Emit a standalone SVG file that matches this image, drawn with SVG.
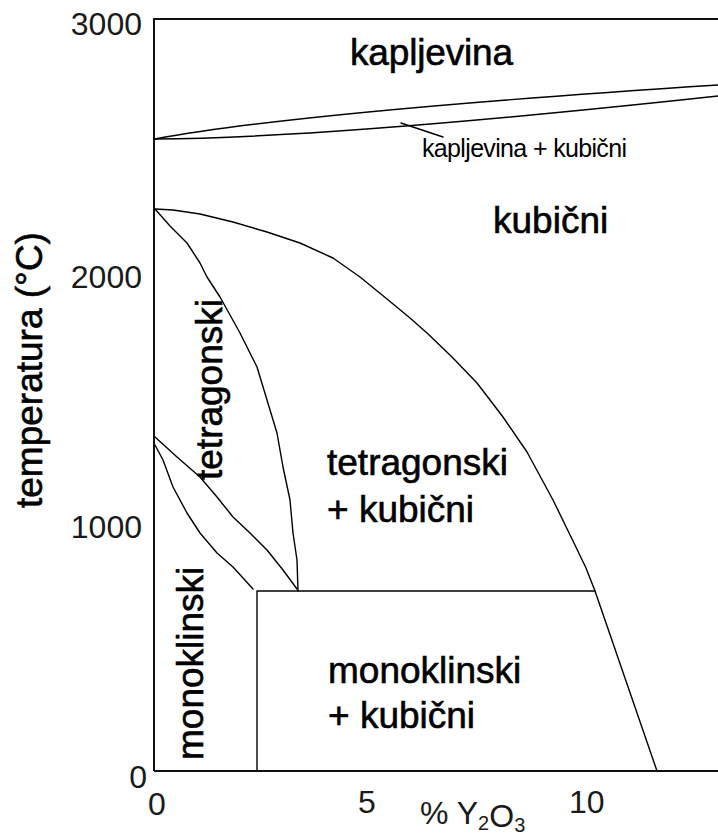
<svg xmlns="http://www.w3.org/2000/svg" width="718" height="837" viewBox="0 0 718 837">
<style>
text{font-family:"Liberation Sans",Arial,sans-serif;fill:#000}
.tick{font-size:32px;fill:#1a1a1a}
.lbl{font-size:37px;stroke:#000;stroke-width:0.6}
.small{font-size:25px}
.axis{fill:none;stroke:#111;stroke-width:2}
.ph{fill:none;stroke:#000;stroke-width:1.4;stroke-linejoin:round;stroke-linecap:round}
</style>
<rect width="718" height="837" fill="#fff"/>
<g id="axes">
<path class="axis" d="M154,771 V19 H718 M154,771 H718"/>
</g>
<g id="ticks">
<text class="tick" x="142" y="35" text-anchor="end">3000</text>
<text class="tick" x="142" y="288" text-anchor="end">2000</text>
<text class="tick" x="142" y="538" text-anchor="end">1000</text>
<text class="tick" x="147" y="788" text-anchor="end">0</text>
<text class="tick" x="148" y="815">0</text>
<text class="tick" x="358" y="813">5</text>
<text class="tick" x="569" y="813">10</text>
<text class="tick" x="420" y="824" font-size="28">% Y<tspan font-size="20" dy="6">2</tspan><tspan dy="-3">O</tspan><tspan font-size="20" dy="5">3</tspan></text>
<text class="lbl" transform="translate(42,508) rotate(-90)" stroke-width="0">temperatura (°C)</text>
</g>
<g id="boundaries">
<path class="ph" d="M155,139 Q300,112 718,85"/>
<path class="ph" d="M155,139 Q330,138 718,96"/>
<polyline class="ph" points="155,209 173,210 200,214 233,222 267,232 300,243 333,258 360,277 387,299 410,318 427,333 452,357 477,383 503,417 527,452 553,500 573,541 586,568 595,591 657,771"/>
<polyline class="ph" points="155,209 170,226 187,243 200,263 207,277 220,297 240,333 257,367 267,400 277,433 283,467 290,500 293,533 297,560 298,591"/>
<polyline class="ph" points="155,437 177,457 200,477 217,497 233,517 250,533 267,550 283,570 297,589"/>
<polyline class="ph" points="155,445 163,460 173,487 187,513 200,533 217,553 233,567 253,589"/>
<path class="ph" d="M257,591 H595 M257,591 V771"/>
</g>
<g id="leader">
<path class="ph" stroke-width="1.2" d="M401,123 L443,137"/>
</g>
<g id="labels">
<text class="lbl" x="350" y="65" textLength="163">kapljevina</text>
<text class="small" x="422" y="157" textLength="205">kapljevina + kubični</text>
<text class="lbl" x="493" y="233">kubični</text>
<text class="lbl" x="327" y="475">tetragonski</text>
<text class="lbl" x="327" y="522">+ kubični</text>
<text class="lbl" x="328" y="683">monoklinski</text>
<text class="lbl" x="328" y="728">+ kubični</text>
<text class="lbl" transform="translate(222,480) rotate(-90)">tetragonski</text>
<text class="lbl" transform="translate(203,760) rotate(-90)">monoklinski</text>
</g>
</svg>
